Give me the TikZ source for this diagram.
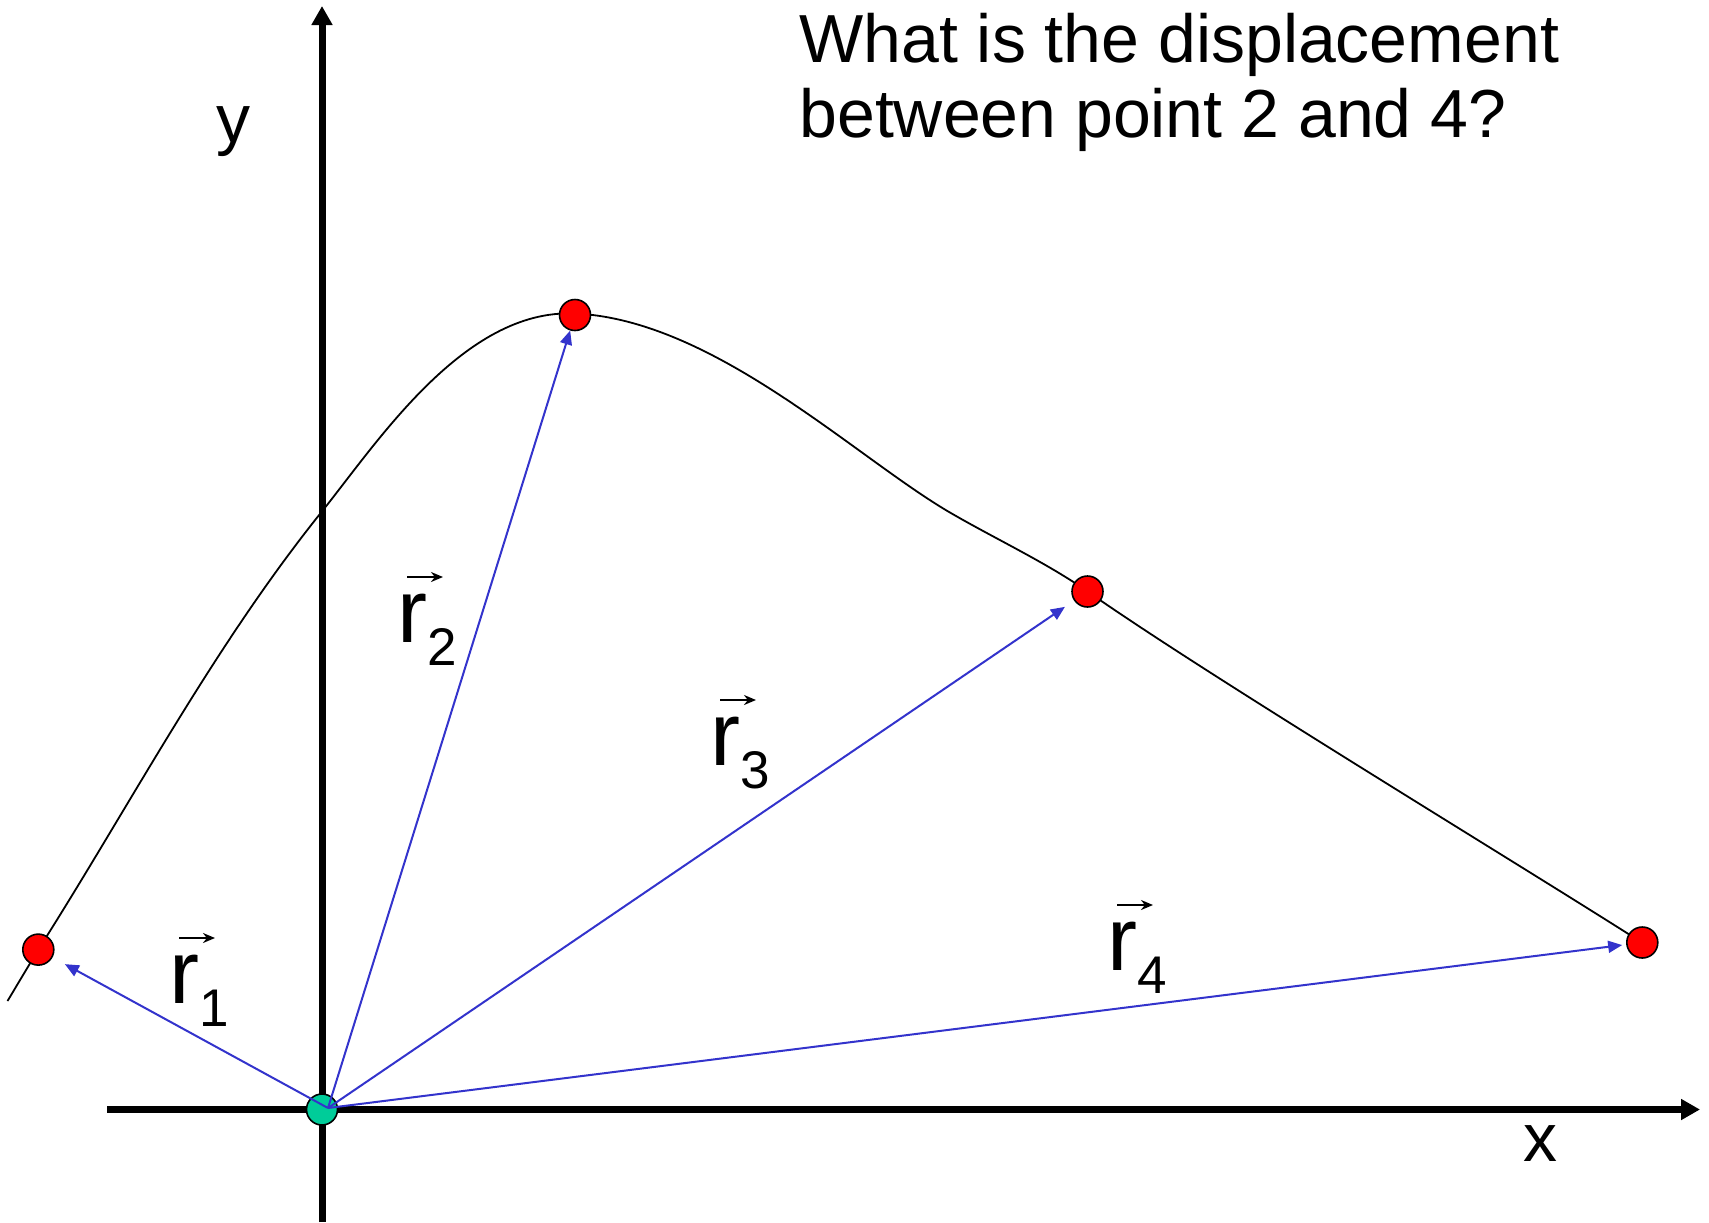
\documentclass[tikz,border=0pt]{standalone}
\usepackage{fontspec}
\setmainfont{Liberation Sans}
\usetikzlibrary{arrows.meta,calc}
\definecolor{vblue}{HTML}{3333CC}
\definecolor{pred}{HTML}{FF0000}
\definecolor{pgreen}{HTML}{00CC99}
\newcommand{\subdig}[1]{{\fontsize{26.5}{26.5}\selectfont\raisebox{-11.5pt}{#1}}}
\begin{document}
\begin{tikzpicture}[x=0.5pt,y=-0.5pt,
  axisline/.style={line width=3.5pt,-{Triangle[length=9.5pt,width=10pt]}},
  pathcurve/.style={line width=0.9pt},
  redpt/.style={circle,draw=black,line width=0.8pt,fill=pred,minimum size=15.5pt,inner sep=0pt},
  greenpt/.style={circle,draw=black,line width=0.8pt,fill=pgreen,minimum size=15.5pt,inner sep=0pt},
  posvec/.style={draw=vblue,line width=1pt,-{Triangle[length=7pt,width=6pt]}},
  veclabel/.style={anchor=base west,inner sep=0pt,font=\fontsize{45}{45}\selectfont},
  overarrow/.style={line width=1.3pt,-{Stealth[length=6pt,width=5pt]}},
  titletext/.style={anchor=base west,inner sep=0pt,font=\fontsize{34}{40}\selectfont},
  axislabel/.style={inner sep=0pt,font=\fontsize{34}{40}\selectfont}
]
\useasboundingbox (0,0) rectangle (1709,1222);

% trajectory
\draw[pathcurve] (7.5,1001) -- (38.3,949.6)
  .. controls (131.6,802.6) and (212.6,647.7) .. (321.5,512)
  .. controls (377.8,441.8) and (464,309) .. (574,313.5)
  .. controls (713.6,319) and (855.7,457.8) .. (950.8,513)
  .. controls (994,538.1) and (1046.6,562.8) .. (1087.5,591.4)
  .. controls (1210.4,677.4) and (1515.5,861.9) .. (1642,942.6);

% axes
\coordinate (xs) at (107,1109.5);
\coordinate (xe) at (1700,1109.5);
\coordinate (ys) at (322,1222);
\coordinate (ye) at (322,6);
\draw[axisline] (xs) -- (xe);
\draw[axisline] (ys) -- (ye);

% points
\node[greenpt] (o) at (322,1109.5) {};
\node[redpt] (p1) at (38.3,949.6) {};
\node[redpt] (p2) at (575,315) {};
\node[redpt] (p3) at (1087.5,591.5) {};
\node[redpt] (p4) at (1642.3,942.5) {};

% position vectors
\coordinate (os) at (328,1108);
\draw[posvec,shorten >=7pt] (os) -- (p1);
\draw[posvec] (os) -- (p2);
\draw[posvec,shorten >=5.5pt] (os) -- (p3);
\draw[posvec,shorten >=2pt] (os) -- (p4);

% vector labels
\node[veclabel] (r1) at (169,1003) {r\subdig{1}};
\node[veclabel] (r2) at (397,642) {r\subdig{2}};
\node[veclabel] (r3) at (710,765) {r\subdig{3}};
\node[veclabel] (r4) at (1107,970) {r\subdig{4}};
\foreach \n in {r1,r2,r3,r4}{
  \draw[overarrow] ($(\n.base west)+(10,-65)$) -- ($(\n.base west)+(46,-65)$);
}

% axis labels
\node[axislabel] (ylab) at (233,132) {y};
\node[axislabel] (xlab) at (1540,1144) {x};

% question
\node[titletext] (t1) at (799,62) {What is the displacement};
\node[titletext] (t2) at (799,137) {between point 2 and 4?};
\end{tikzpicture}
\end{document}
